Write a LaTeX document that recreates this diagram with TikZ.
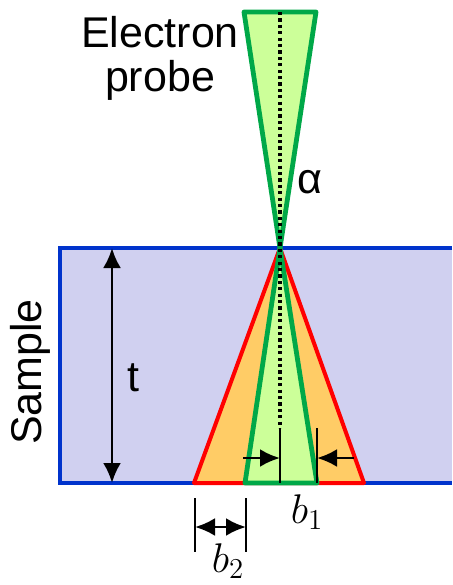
\documentclass[tikz,border=0pt]{standalone}
\usepackage{fontspec}
\setmainfont{Liberation Sans}
\usetikzlibrary{arrows.meta}

\definecolor{sampleline}{RGB}{0,51,204}
\definecolor{samplefill}{RGB}{208,208,240}
\definecolor{beamline}{RGB}{0,168,72}
\definecolor{beamfill}{RGB}{204,255,153}
\definecolor{spreadline}{RGB}{255,0,0}
\definecolor{spreadfill}{RGB}{255,204,102}

\tikzset{
  label text/.style={font=\fontsize{21.5}{22}\selectfont, inner sep=0pt},
  math text/.style={font=\fontsize{22}{26}\selectfont, inner sep=0pt},
  dim arrow/.style={line width=1.4pt, -{Latex[length=10pt,width=9pt]}},
  dim line/.style={line width=1.4pt}
}

\begin{document}
\begin{tikzpicture}[x=0.5pt,y=-0.5pt]

\useasboundingbox (0,0) rectangle (452,585);

% Sample
\fill[samplefill] (60,248) rectangle (452,483);
\draw[sampleline, line width=2.2pt] (452,248) -- (60,248) -- (60,483) -- (452,483);

% coordinates of the beam
\coordinate (apex) at (280,248);
\coordinate (topL) at (244,12);
\coordinate (topR) at (316,12);
\coordinate (redL) at (194,483);
\coordinate (redR) at (364,483);
\coordinate (grnL) at (245,483);
\coordinate (grnR) at (317,483);

% spread of the beam
\filldraw[fill=spreadfill, draw=spreadline, line width=2pt, line join=round]
  (apex) -- (redL) -- (redR) -- cycle;

% probe
\filldraw[fill=beamfill, draw=beamline, line width=2.4pt, line join=round]
  (apex) -- (topL) -- (topR) -- cycle;
\filldraw[fill=beamfill, draw=beamline, line width=2.4pt, line join=round]
  (apex) -- (grnL) -- (grnR) -- cycle;

% axis
\coordinate (axisTop) at (280,12);
\coordinate (axisEnd) at (280,428);
\draw[line width=1.6pt, dash pattern=on 1.6pt off 1.6pt] (axisTop) -- (axisEnd);

% b1
\foreach \x/\n in {280/a,317/b}
{
\coordinate (tick\n) at (\x,428);
\coordinate (foot\n) at (\x,483);
\draw[dim line] (tick\n) -- (foot\n);
}
\coordinate (inL) at (243,458);
\coordinate (inR) at (354,458);
\draw[dim arrow] (inL) -- (280,458);
\draw[dim arrow] (inR) -- (317,458);
\node[math text] (bone) at (307,512) {$b_1$};

% b2
\foreach \x/\n in {195/c,246/d}
{
\coordinate (tick\n) at (\x,498);
\coordinate (foot\n) at (\x,552);
\draw[dim line] (tick\n) -- (foot\n);
}
\draw[dim line, {Latex[length=10pt,width=9pt]}-{Latex[length=10pt,width=9pt]}]
  (195,527) -- (246,527);
\node[math text] (btwo) at (228,561) {$b_2$};

% thickness
\coordinate (tTop) at (112,248);
\coordinate (tBot) at (112,483);
\draw[dim line, {Latex[length=10pt,width=9pt]}-{Latex[length=10pt,width=9pt]}]
  (tTop) -- (tBot);
\node[label text] (thick) at (133,378) {t};

% labels
\node[label text, align=center] (probe) at (160,58) {Electron\\probe};
\node[label text] (alpha) at (310,182) {α};
\node[label text, rotate=90] (sample) at (30,372) {Sample};

\end{tikzpicture}
\end{document}
